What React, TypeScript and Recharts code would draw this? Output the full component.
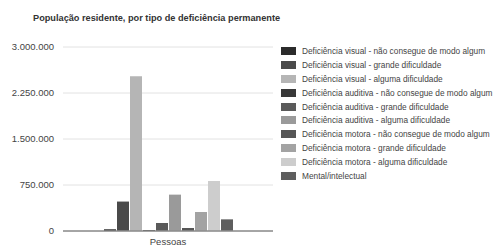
import { Bar, BarChart, CartesianGrid, XAxis, YAxis } from "recharts";

const CATEGORIES = ["Pessoas"];

const SERIES_NAMES = [
  "Deficiência visual - não consegue de modo algum",
  "Deficiência visual - grande dificuldade",
  "Deficiência visual - alguma dificuldade",
  "Deficiência auditiva - não consegue de modo algum",
  "Deficiência auditiva - grande dificuldade",
  "Deficiência auditiva - alguma dificuldade",
  "Deficiência motora - não consegue de modo algum",
  "Deficiência motora - grande dificuldade",
  "Deficiência motora - alguma dificuldade",
  "Mental/intelectual",
];

const SERIES_VALUES = [
  28000, 480000, 2522000, 16000, 130000, 593000, 49000, 310000, 815000, 190000,
];

const SERIES_COLORS = [
  "#2b2b2b",
  "#4a4a4a",
  "#b5b5b5",
  "#383838",
  "#5a5a5a",
  "#9a9a9a",
  "#565656",
  "#a3a3a3",
  "#cdcdcd",
  "#5e5e5e",
];

const Y_TICKS = [0, 750000, 1500000, 2250000, 3000000];

const data = CATEGORIES.map((name) => {
  const row: Record<string, string | number> = { name };
  SERIES_NAMES.forEach((s, i) => {
    row[`s${i}`] = SERIES_VALUES[i];
  });
  return row;
});

const formatNumber = (v: number) =>
  String(Math.round(v)).replace(/\B(?=(\d{3})+(?!\d))/g, ".");

const FONT = "'Liberation Sans', Arial, sans-serif";

function LegendList() {
  return (
    <ul
      style={{
        position: "absolute",
        left: 281,
        top: 44,
        listStyle: "none",
        margin: 0,
        padding: 0,
      }}
    >
      {SERIES_NAMES.map((name, i) => (
        <li
          key={name}
          style={{
            display: "flex",
            alignItems: "center",
            height: 13.9,
            fontSize: 8.3,
            color: "#444",
            fontFamily: FONT,
            whiteSpace: "nowrap",
          }}
        >
          <span
            style={{
              display: "inline-block",
              width: 15,
              height: 8,
              background: SERIES_COLORS[i],
              marginRight: 6,
              flexShrink: 0,
            }}
          />
          {name}
        </li>
      ))}
    </ul>
  );
}

export default function App() {
  return (
    <div
      style={{
        position: "absolute",
        left: 0,
        top: 0,
        width: 497,
        height: 248,
        background: "#fff",
        overflow: "hidden",
      }}
    >
      <div
        style={{
          position: "absolute",
          left: 33,
          top: 13,
          fontSize: 9.2,
          fontWeight: 700,
          color: "#333",
          fontFamily: FONT,
          whiteSpace: "nowrap",
        }}
      >
        População residente, por tipo de deficiência permanente
      </div>
      <BarChart
        width={497}
        height={248}
        data={data}
        margin={{ top: 47, right: 224, bottom: 0, left: 0 }}
        barCategoryGap={41}
        barGap={1}
      >
        <CartesianGrid vertical={false} stroke="#e2e2e2" />
        <XAxis
          dataKey="name"
          height={17}
          tickLine={false}
          tickSize={0}
          tickMargin={7}
          axisLine={{ stroke: "#8c8c8c", strokeWidth: 1.5 }}
          tick={{ fill: "#444", fontSize: 9.5, fontFamily: FONT }}
        />
        <YAxis
          width={63}
          domain={[0, 3000000]}
          ticks={Y_TICKS}
          tickFormatter={formatNumber}
          axisLine={false}
          tickLine={false}
          tickSize={0}
          tickMargin={9}
          tick={{ fill: "#444", fontSize: 9.5, fontFamily: FONT }}
        />
        {SERIES_NAMES.map((name, i) => (
          <Bar
            key={name}
            dataKey={`s${i}`}
            name={name}
            fill={SERIES_COLORS[i]}
            isAnimationActive={false}
          />
        ))}
      </BarChart>
      <LegendList />
    </div>
  );
}
